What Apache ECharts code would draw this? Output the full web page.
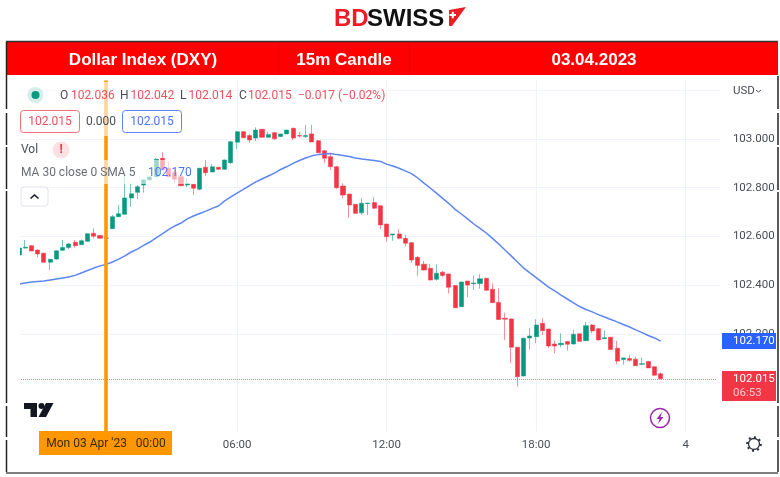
<!DOCTYPE html>
<html>
<head>
<meta charset="utf-8">
<title>Dollar Index (DXY) 15m Candle</title>
<script src="https://cdn.jsdelivr.net/npm/echarts@6/dist/echarts.min.js"></script>
<style>
html, body { margin: 0; padding: 0; background: #fff; }
#chart { width: 780px; height: 477px; }
</style>
</head>
<body>
<div id="chart"></div>
<script>
const opens = [102.524,102.552,102.562,102.544,102.531,102.494,102.507,102.543,102.554,102.576,102.566,102.580,102.613,102.604,102.592,102.632,102.681,102.691,102.758,102.781,102.811,102.833,102.845,102.921,102.880,102.863,102.845,102.811,102.814,102.794,102.884,102.865,102.884,102.876,102.903,102.987,103.030,103.014,103.004,103.040,103.007,103.026,103.010,103.021,103.044,103.014,103.010,103.021,102.993,102.952,102.927,102.886,102.807,102.774,102.732,102.697,102.735,102.739,102.726,102.651,102.606,102.610,102.592,102.574,102.514,102.486,102.469,102.424,102.453,102.446,102.398,102.311,102.417,102.406,102.407,102.428,102.383,102.329,102.264,102.261,102.145,102.027,102.183,102.188,102.243,102.220,102.158,102.155,102.168,102.158,102.200,102.172,102.236,102.221,102.180,102.186,102.141,102.095,102.099,102.096,102.075,102.086,102.065,102.036];
const closes = [102.552,102.556,102.540,102.528,102.494,102.506,102.541,102.554,102.569,102.562,102.582,102.611,102.601,102.593,102.594,102.681,102.693,102.758,102.775,102.804,102.832,102.844,102.917,102.873,102.845,102.835,102.808,102.817,102.798,102.880,102.862,102.886,102.876,102.914,102.989,103.030,103.005,102.996,103.037,103.007,103.019,103.001,103.021,103.037,103.004,103.012,103.014,102.988,102.944,102.921,102.886,102.800,102.770,102.729,102.695,102.736,102.737,102.716,102.647,102.599,102.610,102.592,102.572,102.503,102.481,102.462,102.421,102.449,102.440,102.391,102.307,102.413,102.400,102.409,102.426,102.379,102.328,102.259,102.260,102.145,102.024,102.182,102.191,102.236,102.213,102.150,102.150,102.161,102.157,102.198,102.169,102.233,102.212,102.175,102.184,102.136,102.088,102.101,102.091,102.069,102.077,102.060,102.030,102.015];
const lows = [102.520,102.550,102.540,102.515,102.493,102.462,102.505,102.540,102.548,102.554,102.564,102.578,102.592,102.589,102.590,102.630,102.680,102.690,102.721,102.754,102.780,102.828,102.844,102.871,102.844,102.819,102.807,102.803,102.770,102.789,102.848,102.863,102.873,102.873,102.897,102.959,103.004,102.984,102.992,103.004,103.004,102.996,103.008,103.021,102.996,103.006,103.004,102.988,102.943,102.902,102.873,102.794,102.757,102.676,102.692,102.688,102.688,102.713,102.630,102.578,102.582,102.588,102.558,102.492,102.439,102.460,102.419,102.418,102.432,102.366,102.306,102.310,102.350,102.380,102.385,102.376,102.327,102.257,102.175,102.080,101.983,102.025,102.136,102.161,102.195,102.142,102.120,102.145,102.131,102.156,102.168,102.170,102.202,102.172,102.179,102.135,102.075,102.073,102.085,102.068,102.072,102.060,102.029,102.014];
const highs = [102.556,102.585,102.565,102.546,102.532,102.508,102.542,102.585,102.573,102.585,102.587,102.612,102.633,102.606,102.596,102.688,102.729,102.852,102.818,102.811,102.836,102.848,102.922,102.946,102.907,102.873,102.848,102.840,102.815,102.881,102.914,102.897,102.885,102.916,102.992,103.033,103.033,103.021,103.048,103.041,103.030,103.029,103.021,103.037,103.047,103.030,103.058,103.058,102.996,102.955,102.943,102.889,102.818,102.774,102.733,102.757,102.738,102.761,102.729,102.651,102.611,102.629,102.606,102.577,102.520,102.499,102.487,102.485,102.458,102.446,102.401,102.413,102.417,102.439,102.445,102.429,102.407,102.387,102.287,102.265,102.146,102.184,102.223,102.260,102.264,102.220,102.172,102.202,102.170,102.216,102.201,102.249,102.240,102.224,102.213,102.187,102.172,102.101,102.113,102.106,102.102,102.088,102.066,102.042];
const maValues = [102.405,102.409,102.413,102.415,102.417,102.421,102.425,102.429,102.433,102.440,102.450,102.460,102.470,102.479,102.485,102.495,102.507,102.520,102.536,102.548,102.563,102.577,102.594,102.610,102.628,102.643,102.655,102.672,102.684,102.694,102.704,102.715,102.725,102.746,102.762,102.778,102.793,102.809,102.824,102.836,102.848,102.860,102.875,102.887,102.900,102.912,102.922,102.931,102.936,102.939,102.941,102.936,102.932,102.928,102.922,102.918,102.915,102.912,102.908,102.897,102.889,102.880,102.869,102.858,102.840,102.819,102.799,102.778,102.756,102.735,102.711,102.692,102.672,102.651,102.633,102.614,102.592,102.569,102.544,102.520,102.495,102.470,102.450,102.431,102.411,102.392,102.376,102.359,102.343,102.327,102.312,102.300,102.290,102.279,102.269,102.259,102.249,102.238,102.228,102.216,102.205,102.193,102.183,102.170];
const priceTicks = ['102.000', '102.200', '102.400', '102.600', '102.800', '103.000'];
const timeTicks = { 35: '06:00', 59: '12:00', 83: '18:00', 107: '4' };
const lastClose = 102.015;
const markedBar = 14;

// 15 minute slots, chart opens at 21:15 the evening before
const times = [];
for (let i = 0; i < 113; i++) {
  const m = (21 * 60 + 15 + i * 15) % 1440;
  times.push(String(Math.floor(m / 60)).padStart(2, '0') + ':' + String(m % 60).padStart(2, '0'));
}

const RED = '#f23645';
const GREEN = '#089981';
const BLUE = '#2962ff';
const FONT = 'Roboto, sans-serif';

function label(x, y, text, fill, extra) {
  return {
    type: 'text', x, y, z: 30, silent: true,
    style: Object.assign({ text, fill, font: '11.5px ' + FONT, textVerticalAlign: 'middle' }, extra)
  };
}
function rect(x, y, width, height, fill, extra) {
  return Object.assign({ type: 'rect', z: 20, silent: true, shape: { x, y, width, height }, style: { fill } }, extra);
}
function vline(x, y1, y2, stroke) {
  return { type: 'line', z: 25, silent: true, shape: { x1: x, y1, x2: x, y2 }, style: { stroke, lineWidth: 1.5 } };
}

const graphics = [
  // cover the part of the first candle and grid left of the pane
  rect(8, 76, 12, 360, '#fff', { z: 15 }),
  // translucent legend rows
  rect(20, 82, 165, 54, 'rgba(255,255,255,0.6)', { z: 15 }),
  rect(20, 160, 176, 24, 'rgba(255,255,255,0.6)', { z: 15 }),

  // logo
  label(334, 19, 'BD', '#ee1c25', { font: 'bold 24px "Liberation Sans"' }),
  label(367, 19, 'SWISS', '#111', { font: 'bold 24px "Liberation Sans"' }),
  { type: 'polygon', z: 30, silent: true, shape: { points: [[449, 10], [466, 7], [452, 26], [449, 26]] }, style: { fill: '#ee1c25' } },
  rect(449.5, 14, 6.5, 2, '#fff', { z: 31 }),
  rect(451.8, 11.8, 2, 6.5, '#fff', { z: 31 }),

  // header band
  rect(7, 42, 771, 33, '#ff0000'),
  vline(279, 42, 75, '#ee0000'),
  vline(409.5, 42, 75, '#ee0000'),
  label(143, 60, 'Dollar Index (DXY)', '#fff', { font: 'bold 17px "Liberation Sans"', textAlign: 'center' }),
  label(344, 60, '15m Candle', '#fff', { font: 'bold 17px "Liberation Sans"', textAlign: 'center' }),
  label(594, 60, '03.04.2023', '#fff', { font: 'bold 17px "Liberation Sans"', textAlign: 'center' }),

  // table borders
  { type: 'line', z: 25, silent: true, shape: { x1: 6, y1: 41.5, x2: 778, y2: 41.5 }, style: { stroke: '#333', lineWidth: 1.5 } },
  { type: 'line', z: 25, silent: true, shape: { x1: 6, y1: 473, x2: 778, y2: 473 }, style: { stroke: '#555', lineWidth: 1.5 } },
  vline(6.5, 42, 109, '#222'), vline(6.5, 113, 145, '#222'), vline(6.5, 147, 189, '#222'),
  vline(6.5, 191, 403, '#222'), vline(6.5, 406, 437, '#222'), vline(6.5, 440, 472, '#222'),
  vline(778, 76, 109, '#222'), vline(778, 113, 145, '#222'), vline(778, 147, 190, '#222'),
  vline(778, 192, 403, '#222'), vline(778, 406, 437, '#222'), vline(778, 440, 472, '#222'),

  // legend
  { type: 'circle', z: 30, silent: true, shape: { cx: 35.5, cy: 95, r: 8 }, style: { fill: '#d5eeea' } },
  { type: 'circle', z: 31, silent: true, shape: { cx: 35.5, cy: 95, r: 4 }, style: { fill: GREEN } },
  label(60, 96, 'O', '#4a4d57', { font: '12px ' + FONT }), label(71, 96, '102.036', '#f0505e', { font: '12px ' + FONT }),
  label(120, 96, 'H', '#4a4d57', { font: '12px ' + FONT }), label(130.5, 96, '102.042', '#f0505e', { font: '12px ' + FONT }),
  label(180, 96, 'L', '#4a4d57', { font: '12px ' + FONT }), label(188.5, 96, '102.014', '#f0505e', { font: '12px ' + FONT }),
  label(239, 96, 'C', '#4a4d57', { font: '12px ' + FONT }), label(248, 96, '102.015', '#f0505e', { font: '12px ' + FONT }),
  label(298, 96, '\u22120.017 (\u22120.02%)', '#f0505e', { font: '12px ' + FONT }),

  rect(20.5, 110.5, 59, 22, '#fff', { shape: { x: 20.5, y: 110.5, width: 59, height: 22, r: 3 }, style: { fill: '#fff', stroke: '#f4717c', lineWidth: 1 } }),
  label(50, 122, '102.015', '#f0505e', { textAlign: 'center', font: '12px ' + FONT }),
  label(101, 122, '0.000', '#4a4d57', { textAlign: 'center', font: '12px ' + FONT }),
  rect(122.5, 110.5, 59, 22, '#fff', { shape: { x: 122.5, y: 110.5, width: 59, height: 22, r: 3 }, style: { fill: '#fff', stroke: '#5b85fb', lineWidth: 1 } }),
  label(152, 122, '102.015', '#4a74f5', { textAlign: 'center', font: '12px ' + FONT }),

  label(21, 150, 'Vol', '#4a4d57', { font: '12px ' + FONT }),
  { type: 'circle', z: 30, silent: true, shape: { cx: 61, cy: 150, r: 8.5 }, style: { fill: '#fde0e3' } },
  label(61, 150, '!', RED, { font: 'bold 12px ' + FONT, textAlign: 'center' }),
  label(21, 173, 'MA 30 close 0 SMA 5', '#6a6d78', { font: '12px ' + FONT }),
  label(148, 173, '102.170', '#4a74f5', { font: '12px ' + FONT }),

  rect(21, 187, 27, 19, '#fff', { shape: { x: 21, y: 187, width: 27, height: 19, r: 3 }, style: { fill: '#fff', stroke: '#e0e3eb', lineWidth: 1 } }),
  { type: 'polyline', z: 30, silent: true, shape: { points: [[30.5, 198.5], [34.5, 195], [38.5, 198.5]] }, style: { stroke: '#131722', fill: 'none', lineWidth: 1.5 } },

  label(733, 91, 'USD', '#4a4d57'),
  { type: 'polyline', z: 30, silent: true, shape: { points: [[756, 90], [758.5, 92], [761, 90]] }, style: { stroke: '#4a4d57', fill: 'none', lineWidth: 1 } },

  // price tags
  rect(722, 333, 54, 16, BLUE),
  label(733, 341, '102.170', '#fff'),
  rect(722, 371, 54, 30, RED),
  label(733, 379.5, '102.015', '#fff'),
  label(733, 393, '06:53', '#fcc8cd'),

  // date tag under the orange line
  rect(39, 431, 133, 24, '#ff9800'),
  label(106, 444, "Mon 03 Apr '23   00:00", '#3a2a00', { textAlign: 'center', font: '12px ' + FONT }),

  // tradingview mark
  { type: 'polygon', z: 30, silent: true, shape: { points: [[24, 403], [37, 403], [37, 417], [30.5, 417], [30.5, 409], [24, 409]] }, style: { fill: '#131722' } },
  { type: 'circle', z: 30, silent: true, shape: { cx: 41.5, cy: 406, r: 3 }, style: { fill: '#131722' } },
  { type: 'polygon', z: 30, silent: true, shape: { points: [[46, 403], [53.5, 403], [46, 417], [38.5, 417]] }, style: { fill: '#131722' } },

  // lightning badge
  { type: 'circle', z: 30, silent: true, shape: { cx: 660, cy: 418, r: 9.5 }, style: { fill: '#fff', stroke: '#9c27b0', lineWidth: 1.5 } },
  { type: 'polygon', z: 31, silent: true, shape: { points: [[662, 412], [656.5, 419], [659.5, 419], [658, 424], [663.5, 417], [660.5, 417]] }, style: { fill: '#9c27b0' } },

  // settings gear
  { type: 'circle', z: 30, silent: true, shape: { cx: 754, cy: 444, r: 5.5 }, style: { fill: '#fff', stroke: '#2a2e39', lineWidth: 1.3 } },
  { type: 'circle', z: 29, silent: true, shape: { cx: 754, cy: 444, r: 6.8 }, style: { fill: 'none', stroke: '#2a2e39', lineWidth: 2, lineDash: [2, 3.3] } }
];

const chart = echarts.init(document.getElementById('chart'), null, { renderer: 'canvas' });

chart.setOption({
  animation: false,
  backgroundColor: '#fff',
  grid: { left: 15.9, top: 80.6, width: 704, height: 350.6, containLabel: false },
  xAxis: {
    type: 'category',
    data: times,
    boundaryGap: true,
    axisLine: { show: false },
    axisTick: { show: false },
    axisLabel: {
      color: '#4a4d57',
      fontFamily: FONT,
      fontSize: 11.5,
      margin: 8,
      interval: (index) => index in timeTicks,
      formatter: (value, index) => timeTicks[index] || ''
    },
    splitLine: {
      show: true,
      alignWithLabel: true,
      interval: (index) => index in timeTicks,
      lineStyle: { color: '#f0f3fa', width: 1 }
    }
  },
  yAxis: {
    type: 'value',
    position: 'right',
    min: 101.8,
    max: 103.24,
    interval: 0.2,
    axisLine: { show: false },
    axisTick: { show: false },
    axisLabel: {
      color: '#4a4d57',
      fontFamily: FONT,
      fontSize: 11.5,
      margin: 13,
      formatter: (value) => (priceTicks.includes(value.toFixed(3)) ? value.toFixed(3) : '')
    },
    splitLine: {
      show: true,
      showMinLine: false,
      showMaxLine: false,
      lineStyle: { color: '#f0f3fa', width: 1 }
    }
  },
  series: [
    {
      type: 'candlestick',
      barWidth: 4.6,
      data: opens.map((o, i) => [o, closes[i], lows[i], highs[i]]),
      itemStyle: {
        color: GREEN,
        color0: RED,
        borderColor: 'rgba(8,153,129,0.55)',
        borderColor0: 'rgba(242,54,69,0.55)',
        borderWidth: 1
      },
      markLine: {
        silent: true,
        symbol: 'none',
        label: { show: false },
        animation: false,
        data: [
          [
            { coord: [0, lastClose], lineStyle: { color: '#f4505e', type: 'dotted', width: 1, opacity: 0.75 } },
            { coord: [112, lastClose] }
          ],
          { xAxis: markedBar, lineStyle: { color: '#ff9800', type: 'solid', width: 3.6, opacity: 1 } }
        ]
      }
    },
    {
      type: 'line',
      name: 'MA 30',
      data: maValues,
      showSymbol: false,
      symbol: 'none',
      lineStyle: { color: '#5d86f5', width: 1.5 }
    }
  ],
  graphic: { elements: graphics }
});
</script>
</body>
</html>
